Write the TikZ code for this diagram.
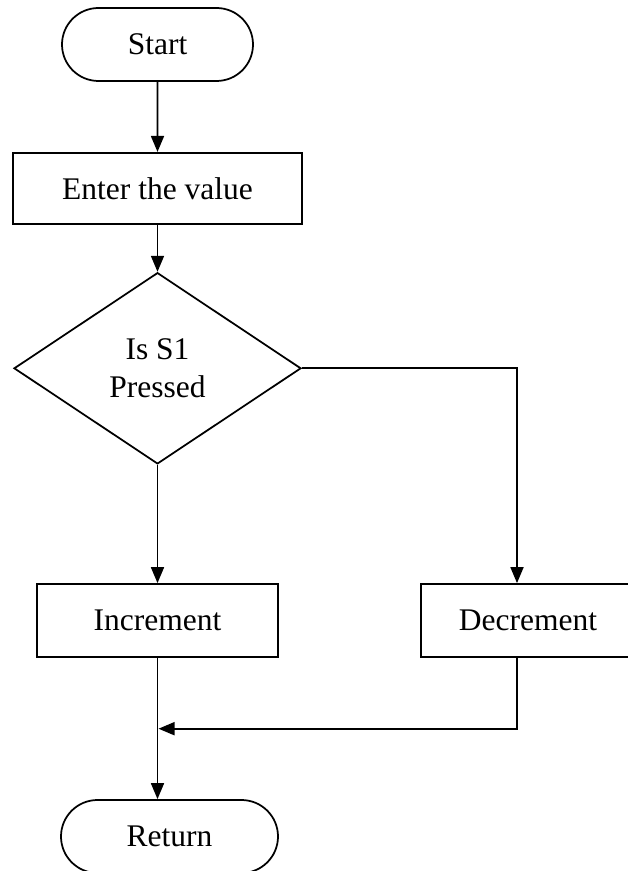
\documentclass[tikz,border=0pt]{standalone}
\usepackage{fontspec}
\setmainfont{Liberation Serif}
\usetikzlibrary{shapes.geometric,shapes.misc,arrows.meta}
\begin{document}
\begin{tikzpicture}[x=0.4pt,y=-0.4pt,line width=0.7pt,
		>={Triangle[length=6.4pt,width=5.2pt]},
		nodes={font=\fontsize{12.6}{15}\selectfont,align=center,inner sep=0pt},
		term/.style={draw,rounded rectangle,minimum width=#1,minimum height=29.2pt},
		proc/.style={draw,rectangle,minimum width=#1,minimum height=29.2pt},
		test/.style={draw,diamond,minimum width=114.8pt,minimum height=76.5pt}]
			\def\xl{157.5}
			\def\xr{517}
			\useasboundingbox (0,0) rectangle (627,871);
			% boxes
			\node[term=76.4pt] (start) at (\xl,44.5) {Start};
			\node[proc=115.6pt,minimum height=28.4pt] (enter) at (\xl,188.3) {Enter the value};
			\node[test] (ask) at (\xl,368.3) {Is S1\\Pressed};
			\node[proc=96.4pt] (inc) at (\xl,620.5) {Increment};
			\node[proc=85.6pt] (dec) at (528,620.5) {Decrement};
			\node[term=86.8pt] (ret) at (169.5,836.5) {Return};
			\coordinate (bend) at (\xr,368.3);
			\coordinate (join) at (\xl+1,728.7);
			% arrows
			\draw[->] (start) -- (enter);
			\draw[->] (enter) -- (ask);
			\draw[->] (ask) -- (inc);
			\draw[->] (ask.east) -- (bend) -- (bend |- dec.north);
			\draw[->] (bend |- dec.south) |- (join);
			\draw[->] (inc) -- (inc.south |- ret.north);
	\end{tikzpicture}
\end{document}
